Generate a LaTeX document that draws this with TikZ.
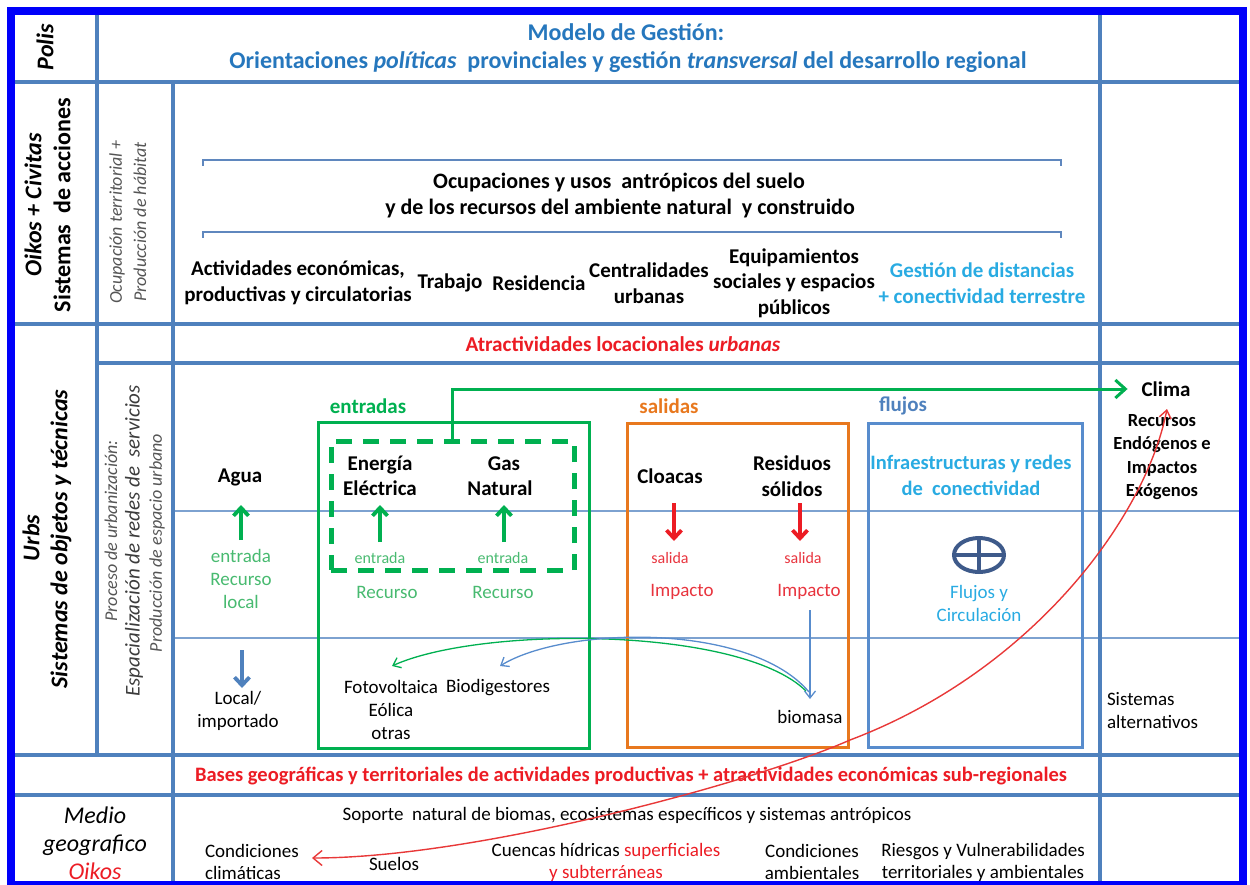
\documentclass[tikz,border=0pt]{standalone}
\usepackage{fontspec}
\setmainfont{Carlito}
\usetikzlibrary{arrows.meta,shapes.geometric}

\definecolor{gridblue}{RGB}{79,129,189}
\definecolor{thinblue}{RGB}{125,162,208}
\definecolor{bracketblue}{RGB}{95,135,190}
\definecolor{framecol}{RGB}{0,0,250}
\definecolor{titleblue}{RGB}{38,119,189}
\definecolor{cyantext}{RGB}{41,171,226}
\definecolor{redtext}{RGB}{236,28,36}
\definecolor{softred}{RGB}{232,52,62}
\definecolor{boxgreen}{RGB}{0,176,80}
\definecolor{lightgreen}{RGB}{72,186,112}
\definecolor{boxorange}{RGB}{232,120,30}
\definecolor{boxblue}{RGB}{88,140,205}
\definecolor{darkslate}{RGB}{62,90,138}
\definecolor{graytext}{RGB}{85,85,85}
\definecolor{darkgraytext}{RGB}{60,60,60}
\definecolor{curvered}{RGB}{232,56,56}

\newcommand{\fsz}[2]{\fontsize{#1pt}{#2pt}\selectfont}

\tikzset{
  grid line/.style={draw=gridblue, line width=4.5pt},
  fine line/.style={draw=thinblue, line width=1.2pt},
  bracket line/.style={draw=bracketblue, line width=1.4pt},
  lbl/.style={inner sep=0pt, outer sep=0pt, align=center, text=black},
  headlbl/.style={lbl, text=titleblue, font=\fsz{24}{30}\bfseries},
  boldlbl/.style={lbl, font=\fsz{21}{25.5}\bfseries},
  plainlbl/.style={lbl, font=\fsz{19}{23}},
  smalllbl/.style={lbl, font=\fsz{16}{19}},
  sidehead/.style={lbl, rotate=90, font=\fsz{24}{29}\bfseries\itshape},
  sidenote/.style={lbl, rotate=90, text=graytext, font=\fsz{18}{22}\itshape},
  areabox/.style={draw, line width=3pt, inner sep=0pt, fill=none},
  fat arrow/.style={line width=3.8pt, -{Straight Barb[length=8pt,width=15pt]}},
  fine arrow/.style={line width=1.3pt, -{Straight Barb[length=7pt,width=11pt]}},
}

\begin{document}
\begin{tikzpicture}[x=1pt, y=-1pt]
\useasboundingbox (0,0) rectangle (1250,885);

% ---- table grid ----
\draw[fine line] (173,511) -- (1243,511);
\draw[fine line] (173,638) -- (1243,638);
\draw[grid line] (11,82) -- (1243,82);
\draw[grid line] (11,324) -- (1243,324);
\draw[grid line] (97,363) -- (1243,363);
\draw[grid line] (11,755) -- (1243,755);
\draw[grid line] (11,795) -- (1243,795);
\draw[grid line] (97,11) -- (97,755);
\draw[grid line] (173,82) -- (173,885);
\draw[grid line] (1100,11) -- (1100,885);
\draw[draw=framecol, line width=7.5pt] (11,11) rectangle (1243,885);

% ---- Polis ----
\node[sidehead] (polis) at (45,47) {Polis};
\node[headlbl] (modelo) at (626,32) {Modelo de Gestión:};
\node[headlbl] (orient) at (628,62) {Orientaciones \textit{políticas}\ \ provinciales y gestión \textit{transversal} del desarrollo regional};

% ---- Oikos + Civitas ----
\node[sidehead] (oikos) at (33,205) {Oikos + Civitas};
\node[sidehead, font=\fsz{24}{29}\bfseries] (sistacc) at (62,205) {Sistemas\ \ de acciones};
\node[sidenote] (ocupter) at (117,222) {Ocupación territorial +};
\node[sidenote] (prodhab) at (140,222) {Producción de hábitat};

\draw[bracket line] (203,166) -- (203,160) -- (1061,160) -- (1061,166);
\draw[bracket line] (203,238) -- (203,232) -- (1061,232) -- (1061,238);
\node[boldlbl, font=\fsz{22}{26}\bfseries] (ocup1) at (619,183) {Ocupaciones y usos\ \ antrópicos del suelo};
\node[boldlbl, font=\fsz{22}{26}\bfseries] (ocup2) at (620,209) {y de los recursos del ambiente natural\ \ y construido};

\node[boldlbl] (activ) at (298,283) {Actividades económicas,\\productivas y circulatorias};
\node[boldlbl] (trabajo) at (450,283) {Trabajo};
\node[boldlbl] (resid) at (539,283) {Residencia};
\node[boldlbl] (central) at (649,283) {Centralidades\\urbanas};
\node[boldlbl] (equip) at (794,283) {Equipamientos\\sociales y espacios\\públicos};
\node[boldlbl, text=cyantext] (gestion) at (982,283) {Gestión de distancias\\+ conectividad terrestre};

% ---- Urbs ----
\node[boldlbl, text=redtext, font=\fsz{21.2}{25}\bfseries] (atract) at (623,344) {Atractividades locacionales \textit{urbanas}};
\node[sidehead] (urbs) at (31,538) {Urbs};
\node[sidehead] (sistobj) at (61,539) {Sistemas de objetos y técnicas};
\node[sidenote] (proceso) at (111,531) {Proceso de urbanización:};
\node[sidenote, text=darkgraytext, font=\fsz{21}{25}\itshape] (espacial) at (134,541) {Espacialización de redes de\ \ servicios};
\node[sidenote] (produrb) at (157,543) {Producción de espacio urbano};

% boxes
\node[areabox, draw=boxgreen, minimum width=271pt, minimum height=326pt] (entbox) at (453.5,585) {};
\node[areabox, draw=boxgreen, line width=5pt, dash pattern=on 16pt off 11pt, minimum width=243pt, minimum height=129pt] (dashbox) at (452.5,505.5) {};
\node[areabox, draw=boxorange, minimum width=221pt, minimum height=324pt] (salbox) at (737.5,585) {};
\node[areabox, draw=boxblue, minimum width=214pt, minimum height=324pt] (flubox) at (975,585) {};

\node[boldlbl, text=boxgreen] (entradas) at (368,406) {entradas};
\node[boldlbl, text=boxorange] (salidas) at (669,406) {salidas};
\node[boldlbl, text=gridblue] (flujos) at (903,406) {flujos};

% water
\node[boldlbl] (agua) at (240,477) {Agua};
\node[plainlbl, text=lightgreen] (aguain) at (241,579) {entrada\\Recurso\\local};
\node[plainlbl] (localimp) at (238,711) {Local/\\importado};
\coordinate (aguaA) at (241,540); \coordinate (aguaB) at (241,505);
\coordinate (aguaC) at (242,650); \coordinate (aguaD) at (242,688);
\draw[fat arrow, draw=boxgreen] (aguaA) -- (aguaB);
\draw[fat arrow, draw=gridblue] (aguaC) -- (aguaD);

% energy and gas
\node[boldlbl] (energia) at (380,476) {Energía\\Eléctrica};
\node[boldlbl] (gas) at (500,476) {\hspace*{8pt}Gas\\Natural};
\node[smalllbl, text=lightgreen] (entE) at (380,558) {entrada};
\node[smalllbl, text=lightgreen] (entG) at (503,558) {entrada};
\node[plainlbl, text=lightgreen] (recE) at (387,592) {Recurso};
\node[plainlbl, text=lightgreen] (recG) at (503,592) {Recurso};
\coordinate (enA) at (380,542); \coordinate (enB) at (380,505);
\coordinate (gaA) at (504,542); \coordinate (gaB) at (504,505);
\draw[fat arrow, draw=boxgreen] (enA) -- (enB);
\draw[fat arrow, draw=boxgreen] (gaA) -- (gaB);
\node[plainlbl] (foto) at (391,710) {Fotovoltaica\\Eólica\\otras};
\node[plainlbl] (biodig) at (498,688) {Biodigestores};

% outputs
\node[boldlbl] (cloacas) at (670,476) {Cloacas};
\node[boldlbl] (residuos) at (792,476) {Residuos\\sólidos};
\node[smalllbl, text=softred] (salC) at (670,558) {salida};
\node[smalllbl, text=softred] (salR) at (803,558) {salida};
\node[plainlbl, text=softred] (impC) at (682,592) {Impacto};
\node[plainlbl, text=softred] (impR) at (809,592) {Impacto};
\coordinate (clA) at (674,503); \coordinate (clB) at (674,541);
\coordinate (reA) at (800,503); \coordinate (reB) at (800,541);
\draw[fat arrow, draw=redtext] (clA) -- (clB);
\draw[fat arrow, draw=redtext] (reA) -- (reB);
\node[plainlbl] (biomasa) at (810,717) {biomasa};
\coordinate (bioA) at (810,610); \coordinate (bioB) at (810,699);
\draw[fine arrow, draw=boxblue] (bioA) -- (bioB);

% recycling curves from biomasa
\coordinate (bioG) at (806,691); \coordinate (fotoTip) at (392,666);
\coordinate (bioL) at (809,692); \coordinate (biodTip) at (500,666);
\draw[fine arrow, draw=boxgreen] (bioG) .. controls (740,626) and (480,626) .. (fotoTip);
\draw[fine arrow, draw=boxblue] (bioL) .. controls (750,622) and (565,626) .. (biodTip);

% flows
\node[boldlbl, text=cyantext, font=\fsz{20.5}{26}\bfseries] (infra) at (971,475) {Infraestructuras y redes\\de\ \ conectividad};
\node[ellipse, draw=darkslate, line width=4pt, minimum width=50pt, minimum height=34pt, inner sep=0pt] (flowsym) at (979,555) {};
\draw[draw=darkslate, line width=3.5pt] (flowsym.north) -- (flowsym.south);
\draw[draw=darkslate, line width=3.5pt] (flowsym.west) -- (flowsym.east);
\node[plainlbl, text=cyantext] (circ) at (979,603) {Flujos y\\Circulación};

% right column
\node[boldlbl] (clima) at (1166,389) {Clima};
\node[lbl, font=\fsz{18.5}{23.3}\bfseries] (recursos) at (1162,457) {Recursos\\Endógenos e\\Impactos\\Exógenos};
\node[plainlbl, align=left, anchor=west] (sistalt) at (1107,711) {Sistemas\\alternativos};

% energy sent to the climate column
\draw[line width=3pt, draw=boxgreen, -{Straight Barb[length=10pt,width=18pt]}, shorten >=14pt] (dashbox.north) |- (clima.west);

% ---- Medio geografico ----
\node[boldlbl, text=redtext, font=\fsz{20.5}{24}\bfseries] (bases) at (631,776) {Bases geográficas y territoriales de actividades productivas + atractividades económicas sub-regionales};
\node[lbl, font=\fsz{24}{28}\itshape] (medio) at (95,843) {Medio\\geografico\\\textcolor{redtext}{Oikos}};
\node[lbl, font=\fsz{19}{22}] (soporte) at (627,815) {Soporte\ \ natural de biomas, ecosistemas específicos y sistemas antrópicos};
\node[plainlbl, align=left, anchor=west, font=\fsz{19}{22}] (condclim) at (205,862) {Condiciones\\climáticas};
\node[plainlbl] (suelos) at (394,864) {Suelos};
\node[plainlbl, font=\fsz{19}{22}] (cuencas) at (606,862) {Cuencas hídricas \textcolor{redtext}{superficiales}\\\textcolor{redtext}{y subterráneas}};
\node[plainlbl, font=\fsz{19}{22}] (condamb) at (812,862) {Condiciones\\ambientales};
\node[plainlbl, font=\fsz{19}{22}] (riesgos) at (983,862) {Riesgos y Vulnerabilidades\\territoriales y ambientales};

% climate link between the regional conditions and the urban system
\coordinate (redEnd) at (312,858);
\coordinate (redMid) at (850,740);
\coordinate (redTop) at (1167,409);
\draw[line width=1.4pt, draw=curvered, {Straight Barb[length=9pt,width=15pt]}-{Straight Barb[length=8pt,width=12pt]}]
  (redEnd) .. controls (480,858) and (760,780) .. (redMid)
  .. controls (1030,672) and (1145,520) .. (redTop);
\end{tikzpicture}
\end{document}
